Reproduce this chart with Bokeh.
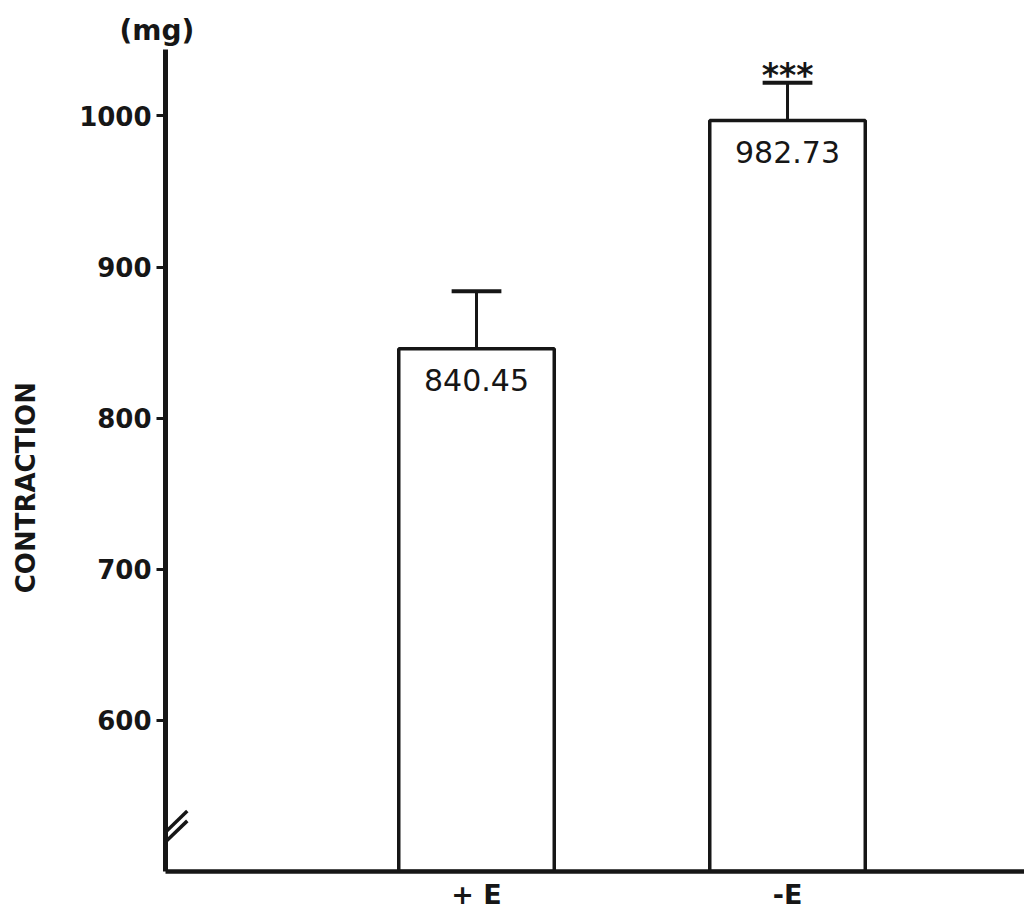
from bokeh.plotting import figure
from bokeh.models import Range1d, FixedTicker, Arrow, ColumnDataSource
from bokeh.core.properties import value
from bokeh.embed import file_html
from bokeh.resources import INLINE

# ---- data ----
categories = ["+ E", "-E"]
bar_tops = [846.0, 997.0]          # drawn bar heights
value_labels = ["840.45", "982.73"] # printed values inside the bars
err_upper = [884.0, 1022.0]         # upper end of the error bars
significance = ["", "***"]
y_ticks = [600, 700, 800, 900, 1000]

FONT = "DejaVu Sans"
INK = "#161616"

xpos = list(range(len(categories)))

p = figure(width=1024, height=912, output_backend="svg", toolbar_location=None,
           x_range=Range1d(-1.0, 1.762), y_range=Range1d(500, 1044),
           min_border_left=165, min_border_right=0, min_border_top=49,
           min_border_bottom=37, background_fill_color="white",
           border_fill_color="white", title="(mg)")
p.outline_line_color = None
p.grid.visible = False

# "(mg)" unit as the title, just above the y axis
p.title.align = "left"
p.title.offset = -46
p.title.standoff = 6
p.title.text_font = FONT
p.title.text_font_size = "28px"
p.title.text_font_style = "bold"
p.title.text_color = INK

# y axis
ya = p.yaxis[0]
ya.ticker = FixedTicker(ticks=y_ticks)
ya.minor_tick_line_color = None
ya.major_tick_in = 0
ya.major_tick_out = 9
ya.major_tick_line_width = 3
ya.major_tick_line_color = INK
ya.axis_line_width = 5
ya.axis_line_color = INK
ya.major_label_text_font = FONT
ya.major_label_text_font_size = "26px"
ya.major_label_text_font_style = "bold"
ya.major_label_text_color = INK
ya.major_label_standoff = 5
ya.axis_label = "CONTRACTION" + "\u00a0" * 6
ya.axis_label_text_font = FONT
ya.axis_label_text_font_style = "bold"
ya.axis_label_text_font_size = "26px"
ya.axis_label_text_color = INK
ya.axis_label_standoff = 35

# x axis
xa = p.xaxis[0]
xa.ticker = FixedTicker(ticks=xpos)
xa.major_label_overrides = {i: c for i, c in zip(xpos, categories)}
xa.minor_tick_line_color = None
xa.major_tick_in = 0
xa.major_tick_out = 0
xa.axis_line_width = 4.5
xa.axis_line_color = INK
xa.major_label_text_font = FONT
xa.major_label_text_font_size = "27px"
xa.major_label_text_font_style = "bold"
xa.major_label_text_color = INK
xa.major_label_standoff = 7

src = ColumnDataSource(dict(x=xpos, top=bar_tops, lab=value_labels,
                            up=err_upper, sig=significance))

# bars
p.vbar(x="x", top="top", bottom=500, width=0.5, source=src,
       fill_color="white", line_color=INK, line_width=3.5)

# error bars
p.segment(x0="x", y0="top", x1="x", y1="up", source=src, line_color=INK, line_width=3)
cap = 0.08
p.segment(x0=[x - cap for x in xpos], y0=err_upper, x1=[x + cap for x in xpos], y1=err_upper,
          line_color=INK, line_width=4)

# values inside bars
p.text(x="x", y="top", text="lab", source=src, y_offset=31,
       text_align="center", text_baseline="middle",
       text_font=value(FONT), text_font_size="30px", text_color=INK)

# significance stars
p.text(x="x", y="up", text="sig", source=src, y_offset=-7,
       text_align="center", text_baseline="alphabetic",
       text_font=value(FONT), text_font_size="33px", text_font_style="bold",
       text_color=INK)

# axis break marks
for dy in (0.0, 6.5):
    p.add_layout(Arrow(end=None, x_start=-1.028, y_start=514.0 + dy,
                       x_end=-0.93, y_end=533.5 + dy,
                       line_color=INK, line_width=3.5))

open("out.html", "w").write(file_html(p, INLINE))
